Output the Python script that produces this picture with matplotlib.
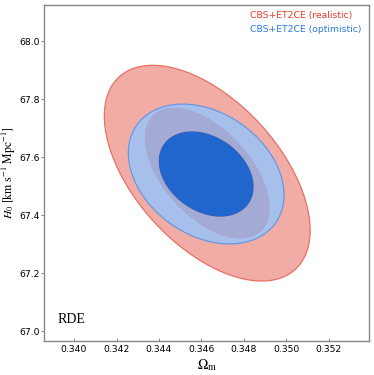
import numpy as np
import matplotlib
matplotlib.use("Agg")
import matplotlib.pyplot as plt

plt.rcParams['mathtext.fontset'] = 'stix'

# Gaussian approximations of the two forecasts (mean, sigma, correlation)
names = ['CBS+ET2CE (realistic)', 'CBS+ET2CE (optimistic)']
mean_om = [0.34627, 0.34622]
mean_h0 = [67.545, 67.542]
sig_om = [0.00195, 0.001475]
sig_h0 = [0.1495, 0.0969]
rho = [-0.53, -0.30]

xticks = [0.340, 0.342, 0.344, 0.346, 0.348, 0.350, 0.352]
yticks = [67.0, 67.2, 67.4, 67.6, 67.8, 68.0]

levels = [0, 2.30, 6.17]
fills = [
    [(227/255, 69/255, 56/255, 1.0), (241/255, 172/255, 165/255, 1.0)],
    [(33/255, 102/255, 204/255, 1.0), (147/255, 198/255, 253/255, 0.8)],
]
edges = [(232/255, 112/255, 100/255), (105/255, 152/255, 225/255)]
text_colors = ['#e8392c', '#2a7be0']

fig = plt.figure(figsize=(3.74, 3.75), dpi=100)
ax = fig.add_axes([44.3/374, 1 - 341.3/375, (369.3-44.3)/374, (341.3-4.7)/375])

X, Y = np.meshgrid(np.linspace(0.3386, 0.3539, 600), np.linspace(66.96, 68.13, 600))
for i in range(2):
    dx = (X - mean_om[i]) / sig_om[i]
    dy = (Y - mean_h0[i]) / sig_h0[i]
    chi2 = (dx**2 - 2*rho[i]*dx*dy + dy**2) / (1 - rho[i]**2)
    ax.contourf(X, Y, chi2, levels=levels, colors=fills[i], antialiased=True)
    ax.contour(X, Y, chi2, levels=[6.17], colors=[edges[i]], linewidths=0.9)

ax.set_xlim(0.3386, 0.3539)
ax.set_ylim(66.966, 68.125)
ax.set_xticks(xticks)
ax.set_xticklabels(['%.3f' % t for t in xticks])
ax.set_yticks(yticks)
ax.set_yticklabels(['%.1f' % t for t in yticks])
ax.tick_params(axis='both', labelsize=6.7, length=2.5, width=0.6, color='#777777')
ax.tick_params(axis='x', direction='in', pad=3)
ax.tick_params(axis='y', direction='out', pad=1)
for s in ax.spines.values():
    s.set_color('#888888')
    s.set_linewidth(1.0)

ax.set_xlabel(r'$\Omega_{\rm m}$', fontsize=10, labelpad=2)
ax.set_ylabel(r'$H_0\ [{\rm km\ s^{-1}\ Mpc^{-1}}]$', fontsize=8.5)
ax.yaxis.set_label_coords(-0.081, 0.5)

for i in range(2):
    ax.text(0.634, 0.967 - i*0.042, names[i], transform=ax.transAxes,
            color=text_colors[i], fontsize=6.7, ha='left', va='center')

ax.text(0.04, 0.065, 'RDE', transform=ax.transAxes, fontsize=10,
        family='Liberation Serif', ha='left', va='center')

fig.savefig('out.png', dpi=100)
